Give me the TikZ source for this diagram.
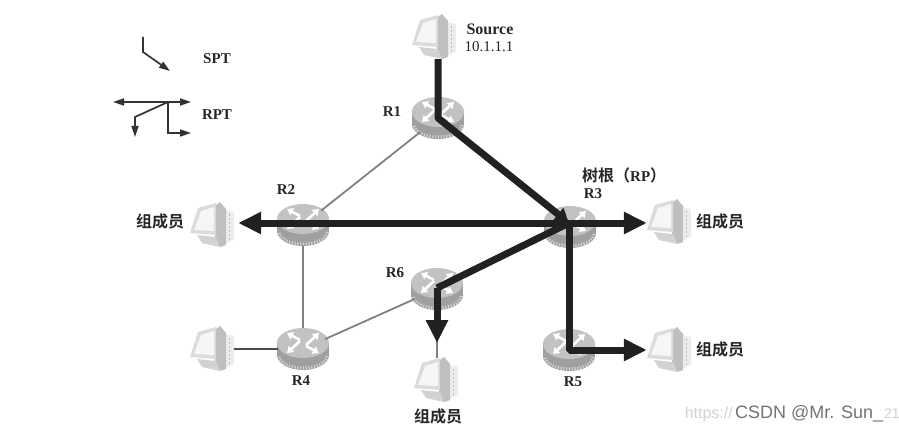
\documentclass[tikz,border=0pt]{standalone}
\usepackage{fontspec}
\setmainfont{Liberation Serif}
\setsansfont{Liberation Sans}
\newfontfamily\cjk{Noto Sans CJK SC Bold}
\usetikzlibrary{arrows.meta,shapes.geometric,calc}
\definecolor{thick}{gray}{0.13}
\definecolor{thin}{gray}{0.5}
\tikzset{
  routernode/.style={ellipse,minimum width=50pt,minimum height=41pt,inner sep=0pt},
  pcnode/.style={rectangle,minimum width=44pt,minimum height=44pt,inner sep=0pt},
  lbl/.style={font=\fontsize{15}{15}\selectfont\bfseries,text=black!85,inner sep=0pt},
  member/.style={font=\fontsize{16}{16}\selectfont\cjk,text=black!85,inner sep=0pt},
  link/.style={draw=thin,line width=1.8pt},
  trunk/.style={draw=thick,line width=7pt,line join=bevel},
  bighead/.style={-{Triangle[length=23pt,width=21pt]}},
  smallhead/.style={-{Triangle[length=14pt,width=16pt]}},
  legend/.style={draw=black!80,line width=1.7pt,-{Triangle[length=11pt,width=7pt]}}
}
\newcommand{\routerat}[3]{%
  \node[routernode] (#1) at (#2,#3) {};
  \begin{scope}[shift={(#2,#3)}]
    \fill[gray!75] (0,6) ellipse[x radius=26,y radius=15];
    \fill[gray!75] (-26,-6) rectangle (26,6);
    \draw[gray!35,line width=3pt,dash pattern=on 1.2pt off 1.6pt] (24,7) arc[x radius=24,y radius=12,start angle=0,end angle=180];
    \fill[gray!48] (0,-6) ellipse[x radius=26,y radius=15];
    \foreach \a/\b/\c/\d in {-3/-9/-16/-16, 3/-4/16/-16, -3/-8/-16/4, 3/-3/16/4}{
      \draw[white,line width=2.6pt,-{Triangle[length=6pt,width=8pt]}] (\a,\b) -- (\c,\d);
    }
  \end{scope}}
\newcommand{\pcat}[3]{%
  \node[pcnode] (#1) at (#2,#3) {};
  \begin{scope}[shift={(#2,#3)}]
    \fill[gray!14] (13,-15) -- (22,-13) -- (22,15) -- (13,19) -- cycle;
    \draw[gray!55,line width=1pt,dash pattern=on 2pt off 2pt] (17,-11) -- (17,15);
    \fill[gray!50] (4,-20) -- (8,-23) -- (14,-16) -- (14,20) -- (8,22) -- (3,12) -- cycle;
    \fill[gray!28] (-14,-17) -- (4,-22) -- (4,10) -- (-22,8) -- cycle;
    \fill[gray!7] (-11,-14) -- (2,-18) -- (2,6) -- (-18,5) -- cycle;
    \fill[gray!35] (-15,10) -- (4,12) -- (8,22) -- (-10,18) -- cycle;
  \end{scope}}
\begin{document}
\begin{tikzpicture}[x=1pt,y=-1pt]
\useasboundingbox (0,0) rectangle (899,433);
\pcat{Src}{434}{37}
\pcat{PL}{212}{225}
\pcat{PR}{669}{222}
\pcat{PF}{669}{350}
\pcat{PW}{212}{349}
\pcat{PB}{436}{380}
\routerat{R1}{438}{118}
\routerat{R2}{303}{225}
\routerat{R3}{570}{227}
\routerat{R4}{303}{349}
\routerat{R5}{569}{350}
\routerat{R6}{437}{289}
\draw[link] (R1) -- (R2);
\draw[link] (R2) -- (R4);
\draw[link] (R4) -- (R6);
\draw[link,draw=black!70] (R4) -- (PW);
\draw[link] (R6.center) -- (R6.center |- PB.north);
\coordinate (J) at (569,223);
\coordinate (T6) at (437,288);
\coordinate (T5) at (569,350);
\draw[trunk,smallhead] (R1.center |- Src.south) -- (R1.center) -- (J);
\draw[trunk,bighead] (J) -- ($(PL.east |- J)+(4,0)$);
\draw[trunk,bighead] (J) -- (PR.west |- J);
\draw[trunk] (J) -- (T6);
\draw[trunk,bighead] (T6) -- (437,343);
\draw[trunk,bighead] (J) -- (T5) -- (PF.west |- T5);
% legend
\coordinate (Sa) at (143,37); \coordinate (Sb) at (143,52); \coordinate (Sc) at (170,71);
\draw[legend] (Sa) -- (Sb) -- (Sc);
\coordinate (Ra) at (113,102); \coordinate (Rb) at (191,102); \coordinate (Rc) at (168,102);
\coordinate (Rd) at (135,117); \coordinate (Re) at (135,137); \coordinate (Rf) at (168,133); \coordinate (Rg) at (191,133);
\draw[legend,{Triangle[length=11pt,width=7pt]}-{Triangle[length=11pt,width=7pt]}] (Ra) -- (Rb);
\draw[legend] (Rc) -- (Rd) -- (Re);
\draw[legend] (Rc) -- (Rf) -- (Rg);
% labels
\node[lbl] (tSPT) at (217,59) {SPT};
\node[lbl] (tRPT) at (217,115) {RPT};
\node[lbl,font=\fontsize{16}{16}\selectfont\bfseries] (tSrc) at (490,29) {Source};
\node[lbl,font=\fontsize{15}{15}\selectfont] (tIP) at (489,47) {10.1.1.1};
\node[lbl] (t1) at (392,112) {R1};
\node[lbl] (t2) at (286,190) {R2};
\node[lbl] (t3) at (593,194) {R3};
\node[lbl] (t4) at (301,381) {R4};
\node[lbl] (t5) at (573,382) {R5};
\node[lbl] (t6) at (395,273) {R6};
\node[member,anchor=west] (tRoot) at (582,175) {树根（{\fontsize{15}{15}\selectfont\rmfamily\bfseries RP}）};
\node[member] (m1) at (160,221) {组成员};
\node[member] (m2) at (720,221) {组成员};
\node[member] (m3) at (720,349) {组成员};
\node[member] (m4) at (438,416) {组成员};
% watermark
\node[font=\fontsize{16}{16}\selectfont\sffamily,text=black!18,inner sep=0pt,anchor=east] (w1) at (733,414) {https://};
\node[font=\fontsize{14}{14}\selectfont\sffamily,text=black!18,inner sep=0pt,anchor=west] (w2) at (884,414) {21};
\node[font=\fontsize{18}{18}\selectfont\sffamily,text=black!55,inner sep=0pt,anchor=west] (w3) at (735,414) {CSDN @Mr. Sun\_};
\end{tikzpicture}
\end{document}
